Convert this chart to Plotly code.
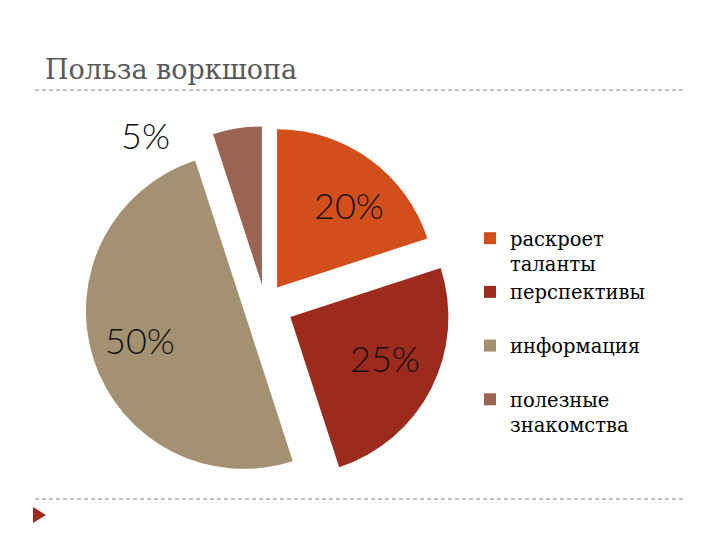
import plotly.graph_objects as go

labels = ["раскроет<br>таланты", "перспективы<br> ", "информация<br> ", "полезные<br>знакомства"]
values = [20, 25, 50, 5]
colors = ["#D24E1B", "#9C2B1E", "#A39172", "#9A6453"]
pulls = [0.13, 0.18, 0.14, 0.125]
title_text = "Польза воркшопа"

# page offset (browser body margin) compensation, in px
OX, OY = 8, 8
W, H = 720, 540
def px(x):
    return (x - OX) / W
def py(y):
    return 1 - (y - OY) / H

# percent label positions (absolute px) -- layout only
label_pos = [(349, 205), (385, 358), (140, 340), (145, 135)]

fig = go.Figure()
fig.add_trace(go.Pie(
    labels=labels, values=values, sort=False, direction="clockwise", rotation=0,
    pull=pulls, marker=dict(colors=colors, line=dict(width=0)),
    textinfo="none",
    domain=dict(x=[px(78.5), px(451.5)], y=[py(490.5), py(117.5)]),
    hoverinfo="skip",
))

annotations = []
total = sum(values)
for v, (x, y) in zip(values, label_pos):
    annotations.append(dict(
        text=f"{round(100 * v / total)}%", x=px(x), y=py(y), xref="paper", yref="paper",
        showarrow=False, xanchor="center", yanchor="middle",
        font=dict(family="Lato", size=36, color="#111111", weight=300)))

fig.update_layout(
    width=W, height=H,
    margin=dict(l=0, r=0, t=0, b=0),
    paper_bgcolor="white", plot_bgcolor="white",
    font=dict(family="DejaVu Serif, serif"),
    title=dict(text=title_text, x=px(45), xanchor="left", y=py(70), yanchor="middle",
               font=dict(family="DejaVu Serif", size=27, color="#595959")),
    legend=dict(x=px(470), y=py(219), xanchor="left", yanchor="top", valign="top",
                font=dict(family="DejaVu Serif, serif", size=19.5, color="#000000"),
                itemwidth=30, bgcolor="rgba(0,0,0,0)"),
    annotations=annotations,
    shapes=[
        dict(type="line", xref="paper", yref="paper", x0=px(35), x1=px(685),
             y0=py(90), y1=py(90), line=dict(color="#9A7A76", width=1, dash="4px,3px")),
        dict(type="line", xref="paper", yref="paper", x0=px(35), x1=px(685),
             y0=py(499), y1=py(499), line=dict(color="#9A7A76", width=1, dash="4px,3px")),
        dict(type="path", xref="paper", yref="paper",
             path=f"M {px(33)} {py(507)} L {px(46)} {py(515)} L {px(33)} {py(523)} Z",
             fillcolor="#9C2B1E", line=dict(width=0)),
    ],
)

fig.write_html("out.html")
